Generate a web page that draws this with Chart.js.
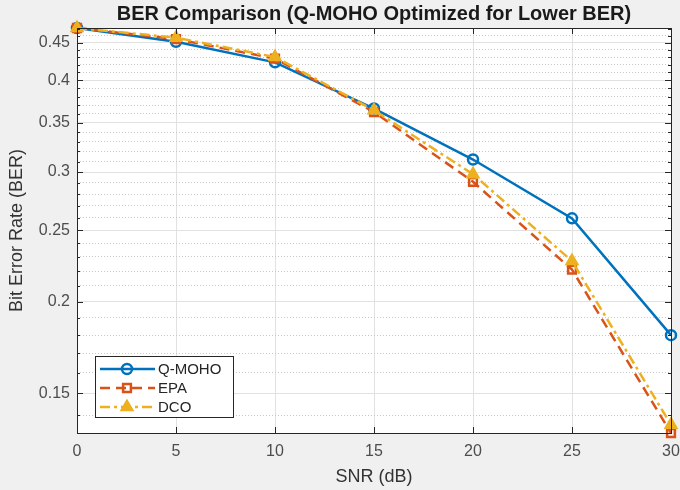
<!DOCTYPE html>
<html>
<head>
<meta charset="utf-8">
<script src="https://cdn.jsdelivr.net/npm/chart.js@4.4.0/dist/chart.umd.min.js"></script>
<style>
    html, body { margin: 0; padding: 0; background: #f0f0f0; }
    #myChart { display: block; }
</style>
</head>
<body>
<canvas id="myChart" width="680" height="490"></canvas>
<script>
// 資料
const snrValues = [0, 5, 10, 15, 20, 25, 30];
const qmohoBer = [0.471, 0.451, 0.423, 0.366, 0.312, 0.2595, 0.180];
const epaBer = [0.471, 0.455, 0.428, 0.362, 0.291, 0.221, 0.1325];
const dcoBer = [0.471, 0.457, 0.430, 0.364, 0.298, 0.227, 0.136];
const yMajorTicks = [0.15, 0.2, 0.25, 0.3, 0.35, 0.4, 0.45];
const yMinorTicks = [0.14, 0.16, 0.17, 0.18, 0.19, 0.21, 0.22, 0.23, 0.24,
    0.26, 0.27, 0.28, 0.29, 0.31, 0.32, 0.33, 0.34, 0.36, 0.37, 0.38, 0.39,
    0.41, 0.42, 0.43, 0.44, 0.46, 0.47];
const yMin = 0.1325;
const yMax = 0.471;
const chartTitle = 'BER Comparison (Q-MOHO Optimized for Lower BER)';

const fontFamily = '"Liberation Sans", Arial, Helvetica, sans-serif';

function toPoints(values) {
    return snrValues.map((x, i) => ({ x: x, y: values[i] }));
}

function isMajor(v) {
    return yMajorTicks.some(t => Math.abs(t - v) < 1e-6);
}

// 白色繪圖區
const areaBackground = {
    id: 'areaBackground',
    beforeDraw(chart) {
        const { ctx, chartArea } = chart;
        ctx.save();
        ctx.fillStyle = '#ffffff';
        ctx.fillRect(chartArea.left, chartArea.top, chartArea.right - chartArea.left, chartArea.bottom - chartArea.top);
        ctx.restore();
    }
};

// 外框、內向刻度、圖例與標題
const matlabFrame = {
    id: 'matlabFrame',
    afterDraw(chart) {
        const { ctx, chartArea } = chart;
        const xs = chart.scales.x;
        const ys = chart.scales.y;
        const l = chartArea.left, r = chartArea.right, t = chartArea.top, b = chartArea.bottom;
        ctx.save();
        ctx.setLineDash([]);
        ctx.strokeStyle = '#262626';
        ctx.lineWidth = 1;
        ctx.beginPath();
        // y 軸刻度
        ys.ticks.forEach(tk => {
            const py = Math.round(ys.getPixelForValue(tk.value)) + 0.5;
            const len = isMajor(tk.value) ? 6 : 3;
            ctx.moveTo(l, py); ctx.lineTo(l + len, py);
            ctx.moveTo(r, py); ctx.lineTo(r - len, py);
        });
        // x 軸刻度
        xs.ticks.forEach(tk => {
            const px = Math.round(xs.getPixelForValue(tk.value)) + 0.5;
            ctx.moveTo(px, b); ctx.lineTo(px, b - 6);
            ctx.moveTo(px, t); ctx.lineTo(px, t + 6);
        });
        ctx.stroke();
        ctx.strokeRect(Math.round(l) + 0.5, Math.round(t) + 0.5, Math.round(r - l), Math.round(b - t));

        // 圖例
        const bx = 95.5, by = 356.5, bw = 138, bh = 61;
        ctx.fillStyle = '#ffffff';
        ctx.fillRect(bx, by, bw, bh);
        ctx.strokeStyle = '#262626';
        ctx.lineWidth = 1;
        ctx.strokeRect(bx, by, bw, bh);
        const rowY = [369, 388, 407];
        chart.data.datasets.forEach((ds, i) => {
            const y = rowY[i];
            ctx.strokeStyle = ds.borderColor;
            ctx.lineWidth = ds.borderWidth;
            ctx.setLineDash(ds.borderDash || []);
            ctx.beginPath();
            ctx.moveTo(100, y);
            ctx.lineTo(155, y);
            ctx.stroke();
            ctx.setLineDash([]);
            ctx.fillStyle = ds.pointBackgroundColor;
            ctx.strokeStyle = ds.pointBorderColor;
            ctx.lineWidth = ds.pointBorderWidth;
            Chart.helpers.drawPoint(ctx, {
                pointStyle: ds.pointStyle,
                radius: ds.pointRadius,
                rotation: 0,
                borderWidth: ds.pointBorderWidth
            }, 127, y);
            ctx.fillStyle = '#262626';
            ctx.font = '15px ' + fontFamily;
            ctx.textAlign = 'left';
            ctx.textBaseline = 'middle';
            ctx.fillText(ds.label, 158, y + 1);
        });

        // 標題
        ctx.fillStyle = '#1a1a1a';
        ctx.font = 'bold 20px ' + fontFamily;
        ctx.textAlign = 'center';
        ctx.textBaseline = 'middle';
        ctx.fillText(chartTitle, (l + r) / 2, 14);
        ctx.restore();
    }
};

const ctx = document.getElementById('myChart').getContext('2d');
let myChart = new Chart(ctx, {
    type: 'line',
    data: {
        datasets: [{
            label: 'Q-MOHO',
            data: toPoints(qmohoBer),
            borderColor: '#0072BD',
            backgroundColor: 'rgba(0,0,0,0)',
            borderWidth: 2.5,
            pointStyle: 'circle',
            pointRadius: 5,
            pointBorderWidth: 2.5,
            pointBorderColor: '#0072BD',
            pointBackgroundColor: 'rgba(0,0,0,0)',
            clip: false,
            order: 3
        }, {
            label: 'EPA',
            data: toPoints(epaBer),
            borderColor: '#D95319',
            backgroundColor: 'rgba(0,0,0,0)',
            borderWidth: 2.5,
            borderDash: [10, 6],
            pointStyle: 'rect',
            pointRadius: 5.5,
            pointBorderWidth: 2.5,
            pointBorderColor: '#D95319',
            pointBackgroundColor: 'rgba(0,0,0,0)',
            clip: false,
            order: 2
        }, {
            label: 'DCO',
            data: toPoints(dcoBer),
            borderColor: '#EDB120',
            backgroundColor: 'rgba(0,0,0,0)',
            borderWidth: 2.5,
            borderDash: [10, 4, 3, 4],
            pointStyle: 'triangle',
            pointRadius: 7,
            pointBorderWidth: 1.5,
            pointBorderColor: '#EDB120',
            pointBackgroundColor: '#EDB120',
            clip: false,
            order: 1
        }]
    },
    options: {
        responsive: false,
        animation: false,
        layout: { padding: { top: 28, right: 9, left: 0, bottom: 0 } },
        plugins: {
            legend: { display: false },
            title: { display: false },
            tooltip: { enabled: false }
        },
        scales: {
            x: {
                type: 'linear',
                min: 0,
                max: 30,
                afterFit: s => {
                    s.height = 57;
                    s.paddingLeft = 0;
                    s.paddingRight = 0;
                },
                grid: { color: '#e1e1e1', lineWidth: 1, drawTicks: false },
                border: { display: false },
                ticks: {
                    stepSize: 5,
                    padding: 9,
                    color: '#4d4d4d',
                    font: { size: 16, family: fontFamily }
                },
                title: {
                    display: true,
                    text: 'SNR (dB)',
                    color: '#333333',
                    font: { size: 18, family: fontFamily },
                    padding: { top: 0, bottom: 2 }
                }
            },
            y: {
                type: 'logarithmic',
                min: yMin,
                max: yMax,
                afterBuildTicks: s => {
                    s.ticks = yMinorTicks.concat(yMajorTicks).sort((a, b) => a - b).map(v => ({ value: v }));
                },
                afterFit: s => {
                    s.width = 77;
                    s.paddingTop = 0;
                    s.paddingBottom = 0;
                },
                grid: {
                    drawTicks: false,
                    lineWidth: 1,
                    color: c => (c.tick && !isMajor(c.tick.value)) ? '#c8c8c8' : '#e1e1e1'
                },
                border: {
                    display: false,
                    dash: c => (c.tick && !isMajor(c.tick.value)) ? [1, 2] : []
                },
                ticks: {
                    autoSkip: false,
                    padding: 7,
                    color: '#4d4d4d',
                    font: { size: 16, family: fontFamily },
                    callback: v => isMajor(v) ? String(+v.toFixed(2)) : ''
                },
                title: {
                    display: true,
                    text: 'Bit Error Rate (BER)',
                    color: '#333333',
                    font: { size: 18, family: fontFamily },
                    padding: { top: 6, bottom: 0 }
                }
            }
        }
    },
    plugins: [areaBackground, matlabFrame]
});
</script>
</body>
</html>
